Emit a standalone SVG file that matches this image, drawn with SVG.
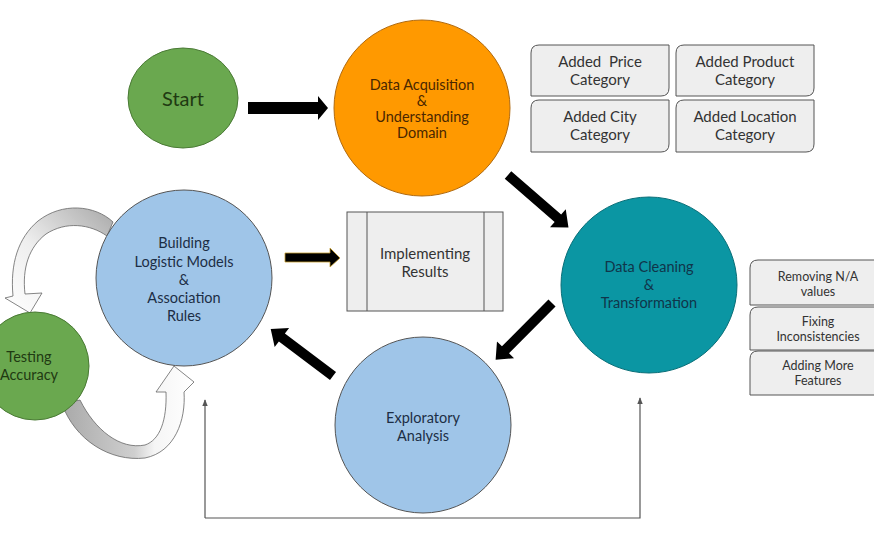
<svg xmlns="http://www.w3.org/2000/svg" width="874" height="540" viewBox="0 0 874 540">
<defs>
<style>
text{font-family:Lato,"Open Sans","Liberation Sans",sans-serif;text-anchor:middle}
.t14{font-size:14.5px}
.box{fill:#eeeeee;stroke:#555;stroke-width:1}
.boxt{font-size:15px;fill:#333}
.sbt{font-size:12.5px;fill:#333}
.blk{fill:#000}
.thin{fill:none;stroke:#555;stroke-width:1.2}
</style>
<marker id="sm" viewBox="0 0 10 10" refX="9" refY="5" markerWidth="6" markerHeight="6" orient="auto">
<path d="M0,1 L10,5 L0,9 Z" fill="#555"/>
</marker>
<linearGradient id="gTop" x1="1" y1="0" x2="0" y2="1">
<stop offset="0" stop-color="#a9a9a9"/>
<stop offset="0.55" stop-color="#eeeeee"/>
<stop offset="1" stop-color="#ffffff"/>
</linearGradient>
<linearGradient id="gBot" x1="0" y1="0" x2="1" y2="0">
<stop offset="0" stop-color="#a9a9a9"/>
<stop offset="0.55" stop-color="#cfcfcf"/>
<stop offset="0.7" stop-color="#f5f5f5"/>
<stop offset="1" stop-color="#ffffff"/>
</linearGradient>
</defs>
<rect width="874" height="540" fill="#fff"/>

<g id="connectors">
<path class="thin" d="M205,518 L205,400" marker-end="url(#sm)"/>
<path class="thin" d="M205,518 L640,518 L640,398" marker-end="url(#sm)"/>
<path class="blk" d="M248,102 L318,102 L318,96 L328,108 L318,120 L318,114 L248,114 Z"/>
<path class="blk" transform="translate(508,175) rotate(40.9)" d="M0,-5 L66,-5 L66,-12 L80,0 L66,12 L66,5 L0,5 Z"/>
<path class="blk" transform="translate(552,303) rotate(134.8)" d="M0,-5 L66,-5 L66,-12 L80,0 L66,12 L66,5 L0,5 Z"/>
<path class="blk" transform="translate(333,376) rotate(217)" d="M0,-5 L64,-5 L64,-12 L78,0 L64,12 L64,5 L0,5 Z"/>
<path d="M285,253 L330,253 L330,248 L340,258 L330,267 L330,262 L285,262 Z" fill="#000" stroke="#c8a030" stroke-width="0.8"/>
<path d="M113,222 C95,205 62,202 38,221 C18,238 10,264 13,296 L5,298 L30,313 L42,293 L25,294 C22,268 29,247 46,234 C66,221 90,224 107,236 Z" fill="url(#gTop)" stroke="#666" stroke-width="0.8"/>
<path d="M62,404 C75,440 110,462 145,458 C175,452 186,420 184,392 L194,382 L174,366 L156,392 L166,392 C167,420 160,440 145,445 C120,450 95,430 80,400 Z" fill="url(#gBot)" stroke="#666" stroke-width="0.8"/>
</g>

<g id="start">
<ellipse cx="183" cy="98" rx="55" ry="50" fill="#6aa84f" stroke="#4a7a35" stroke-width="1"/>
<text x="183" y="106" style="font-size:20px" fill="#1f3a12">Start</text>
</g>

<g id="acquisition">
<circle cx="422" cy="108" r="88" fill="#ff9900" stroke="#b06a10" stroke-width="1"/>
<text class="t14" fill="#4a2700"><tspan x="422" y="90">Data Acquisition</tspan><tspan x="422" y="106">&amp;</tspan><tspan x="422" y="122">Understanding</tspan><tspan x="422" y="138">Domain</tspan></text>
</g>

<g id="cleaning">
<circle cx="649" cy="285" r="88" fill="#0b96a3" stroke="#0a6f78" stroke-width="1"/>
<text class="t14" fill="#10354a"><tspan x="649" y="272">Data Cleaning</tspan><tspan x="649" y="290">&amp;</tspan><tspan x="649" y="308">Transformation</tspan></text>
</g>

<g id="exploratory">
<circle cx="423" cy="425" r="88" fill="#9fc5e8" stroke="#555" stroke-width="1"/>
<text class="t14" fill="#1c2e45"><tspan x="423" y="423">Exploratory</tspan><tspan x="423" y="441">Analysis</tspan></text>
</g>

<g id="building">
<circle cx="184" cy="278" r="88" fill="#9fc5e8" stroke="#555" stroke-width="1"/>
<text class="t14" fill="#1c2e45"><tspan x="184" y="248">Building</tspan><tspan x="184" y="267">Logistic Models</tspan><tspan x="184" y="285">&amp;</tspan><tspan x="184" y="303">Association</tspan><tspan x="184" y="321">Rules</tspan></text>
</g>

<g id="testing">
<circle cx="35" cy="366" r="54" fill="#6aa84f" stroke="#4a7a35" stroke-width="1"/>
<text class="t14" fill="#1f3a12"><tspan x="29" y="362">Testing</tspan><tspan x="29" y="380">Accuracy</tspan></text>
</g>

<g id="implementing">
<rect class="box" x="347" y="212" width="156" height="99"/>
<line x1="367" y1="212" x2="367" y2="311" stroke="#555"/>
<line x1="484" y1="212" x2="484" y2="311" stroke="#555"/>
<text class="boxt"><tspan x="425" y="259">Implementing</tspan><tspan x="425" y="277">Results</tspan></text>
</g>

<g id="price">
<path class="box" d="M539,45 L669,45 L669,88 Q669,96 661,96 L531,96 L531,53 Q531,45 539,45 Z"/>
<text class="boxt" style="white-space:pre" xml:space="preserve"><tspan x="600" y="67">Added  Price</tspan><tspan x="600" y="85">Category</tspan></text>
</g>
<g id="product">
<path class="box" d="M684,45 L814,45 L814,88 Q814,96 806,96 L676,96 L676,53 Q676,45 684,45 Z"/>
<text class="boxt"><tspan x="745" y="67">Added Product</tspan><tspan x="745" y="85">Category</tspan></text>
</g>
<g id="city">
<path class="box" d="M539,100 L669,100 L669,144 Q669,152 661,152 L531,152 L531,108 Q531,100 539,100 Z"/>
<text class="boxt"><tspan x="600" y="122">Added City</tspan><tspan x="600" y="140">Category</tspan></text>
</g>
<g id="location">
<path class="box" d="M684,100 L814,100 L814,144 Q814,152 806,152 L676,152 L676,108 Q676,100 684,100 Z"/>
<text class="boxt"><tspan x="745" y="122">Added Location</tspan><tspan x="745" y="140">Category</tspan></text>
</g>

<g id="removing">
<path class="box" d="M880,305 L750,305 L750,268 Q750,260 758,260 L880,260"/>
<text class="sbt"><tspan x="818" y="281">Removing N/A</tspan><tspan x="818" y="296">values</tspan></text>
</g>
<g id="fixing">
<path class="box" d="M880,350 L750,350 L750,315 Q750,307 758,307 L880,307"/>
<text class="sbt"><tspan x="818" y="326">Fixing</tspan><tspan x="818" y="341">Inconsistencies</tspan></text>
</g>
<g id="adding">
<path class="box" d="M880,395 L750,395 L750,359 Q750,351 758,351 L880,351"/>
<text class="sbt"><tspan x="818" y="370">Adding More</tspan><tspan x="818" y="385">Features</tspan></text>
</g>
</svg>
